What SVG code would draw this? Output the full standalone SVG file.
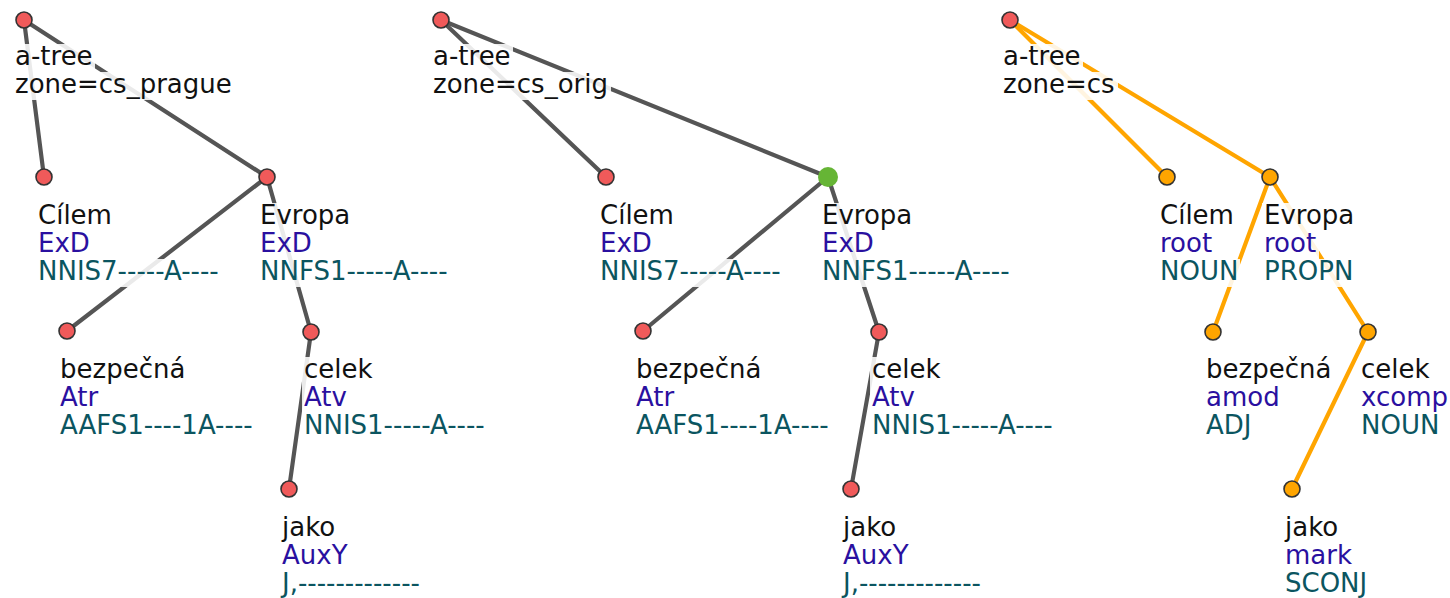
<svg xmlns="http://www.w3.org/2000/svg" width="1450" height="598" viewBox="0 0 1450 598">
<style>
text{font-family:"DejaVu Sans",Verdana,sans-serif;font-size:26px}
.l1{fill:#111}
.l2{fill:#2a10a0}
.l3{fill:#0b5560}
.bg{fill:#fff;fill-opacity:0.88}
.e{stroke:#555;stroke-width:4.2;stroke-linecap:round}
.eo{stroke:#ffa500;stroke-width:4.2;stroke-linecap:round}
.nr{fill:#f05a5a;stroke:#333;stroke-width:1.6}
.no{fill:#ffa500;stroke:#333;stroke-width:1.6}
.ng{fill:#66b535}
</style>
<rect width="1450" height="598" fill="#fff"/>
<g id="edges">
<line class="e" x1="24" y1="20" x2="44" y2="177"/>
<line class="e" x1="24" y1="20" x2="267" y2="177"/>
<line class="e" x1="267" y1="177" x2="67" y2="331"/>
<line class="e" x1="267" y1="177" x2="311" y2="332"/>
<line class="e" x1="311" y1="332" x2="289" y2="489"/>
<line class="e" x1="441" y1="20" x2="606" y2="177"/>
<line class="e" x1="441" y1="20" x2="828" y2="177"/>
<line class="e" x1="828" y1="177" x2="643" y2="331"/>
<line class="e" x1="828" y1="177" x2="879" y2="332"/>
<line class="e" x1="879" y1="332" x2="851" y2="489"/>
<line class="eo" x1="1010" y1="20" x2="1167" y2="177"/>
<line class="eo" x1="1010" y1="20" x2="1270" y2="177"/>
<line class="eo" x1="1270" y1="177" x2="1213" y2="332"/>
<line class="eo" x1="1270" y1="177" x2="1368" y2="332"/>
<line class="eo" x1="1368" y1="332" x2="1292" y2="489"/>
</g>
<g id="t1-root"><rect class="bg" x="13" y="44" width="82" height="28"/><rect class="bg" x="13" y="72" width="222" height="28"/><circle class="nr" cx="24" cy="20" r="8"/><text x="15" y="65" class="l1">a-tree</text><text x="15" y="93" class="l1">zone=cs_prague</text></g>
<g id="t1-cilem"><rect class="bg" x="36" y="203" width="78" height="28"/><rect class="bg" x="36" y="231" width="56" height="28"/><rect class="bg" x="36" y="259" width="186" height="28"/><circle class="nr" cx="44" cy="177" r="8"/><text x="38" y="224" class="l1">Cílem</text><text x="38" y="252" class="l2">ExD</text><text x="38" y="280" class="l3">NNIS7-----A----</text></g>
<g id="t1-evropa"><rect class="bg" x="258" y="203" width="95" height="28"/><rect class="bg" x="258" y="231" width="56" height="28"/><rect class="bg" x="258" y="259" width="193" height="28"/><circle class="nr" cx="267" cy="177" r="8"/><text x="260" y="224" class="l1">Evropa</text><text x="260" y="252" class="l2">ExD</text><text x="260" y="280" class="l3">NNFS1-----A----</text></g>
<g id="t1-bezpecna"><rect class="bg" x="58" y="357" width="130" height="28"/><rect class="bg" x="58" y="385" width="43" height="28"/><rect class="bg" x="58" y="413" width="197" height="28"/><circle class="nr" cx="67" cy="331" r="8"/><text x="60" y="378" class="l1">bezpečná</text><text x="60" y="406" class="l2">Atr</text><text x="60" y="434" class="l3">AAFS1----1A----</text></g>
<g id="t1-celek"><rect class="bg" x="302" y="357" width="73" height="28"/><rect class="bg" x="302" y="385" width="47" height="28"/><rect class="bg" x="302" y="413" width="186" height="28"/><circle class="nr" cx="311" cy="332" r="8"/><text x="304" y="378" class="l1">celek</text><text x="304" y="406" class="l2">Atv</text><text x="304" y="434" class="l3">NNIS1-----A----</text></g>
<g id="t1-jako"><rect class="bg" x="280" y="515" width="58" height="28"/><rect class="bg" x="280" y="543" width="70" height="28"/><rect class="bg" x="280" y="571" width="142" height="27"/><circle class="nr" cx="289" cy="489" r="8"/><text x="282" y="536" class="l1">jako</text><text x="282" y="564" class="l2">AuxY</text><text x="282" y="592" class="l3">J,-------------</text></g>
<g id="t2-root"><rect class="bg" x="431" y="44" width="82" height="28"/><rect class="bg" x="431" y="72" width="180" height="28"/><circle class="nr" cx="441" cy="20" r="8"/><text x="433" y="65" class="l1">a-tree</text><text x="433" y="93" class="l1">zone=cs_orig</text></g>
<g id="t2-cilem"><rect class="bg" x="598" y="203" width="78" height="28"/><rect class="bg" x="598" y="231" width="56" height="28"/><rect class="bg" x="598" y="259" width="186" height="28"/><circle class="nr" cx="606" cy="177" r="8"/><text x="600" y="224" class="l1">Cílem</text><text x="600" y="252" class="l2">ExD</text><text x="600" y="280" class="l3">NNIS7-----A----</text></g>
<g id="t2-evropa"><rect class="bg" x="820" y="203" width="95" height="28"/><rect class="bg" x="820" y="231" width="56" height="28"/><rect class="bg" x="820" y="259" width="193" height="28"/><circle class="ng" cx="828" cy="177" r="10"/><text x="822" y="224" class="l1">Evropa</text><text x="822" y="252" class="l2">ExD</text><text x="822" y="280" class="l3">NNFS1-----A----</text></g>
<g id="t2-bezpecna"><rect class="bg" x="634" y="357" width="130" height="28"/><rect class="bg" x="634" y="385" width="43" height="28"/><rect class="bg" x="634" y="413" width="197" height="28"/><circle class="nr" cx="643" cy="331" r="8"/><text x="636" y="378" class="l1">bezpečná</text><text x="636" y="406" class="l2">Atr</text><text x="636" y="434" class="l3">AAFS1----1A----</text></g>
<g id="t2-celek"><rect class="bg" x="870" y="357" width="73" height="28"/><rect class="bg" x="870" y="385" width="47" height="28"/><rect class="bg" x="870" y="413" width="186" height="28"/><circle class="nr" cx="879" cy="332" r="8"/><text x="872" y="378" class="l1">celek</text><text x="872" y="406" class="l2">Atv</text><text x="872" y="434" class="l3">NNIS1-----A----</text></g>
<g id="t2-jako"><rect class="bg" x="841" y="515" width="58" height="28"/><rect class="bg" x="841" y="543" width="70" height="28"/><rect class="bg" x="841" y="571" width="142" height="27"/><circle class="nr" cx="851" cy="489" r="8"/><text x="843" y="536" class="l1">jako</text><text x="843" y="564" class="l2">AuxY</text><text x="843" y="592" class="l3">J,-------------</text></g>
<g id="t3-root"><rect class="bg" x="1001" y="44" width="82" height="28"/><rect class="bg" x="1001" y="72" width="117" height="28"/><circle class="nr" cx="1010" cy="20" r="8"/><text x="1003" y="65" class="l1">a-tree</text><text x="1003" y="93" class="l1">zone=cs</text></g>
<g id="t3-cilem"><rect class="bg" x="1158" y="203" width="78" height="28"/><rect class="bg" x="1158" y="231" width="57" height="28"/><rect class="bg" x="1158" y="259" width="82" height="28"/><circle class="no" cx="1167" cy="177" r="8"/><text x="1160" y="224" class="l1">Cílem</text><text x="1160" y="252" class="l2">root</text><text x="1160" y="280" class="l3">NOUN</text></g>
<g id="t3-evropa"><rect class="bg" x="1262" y="203" width="95" height="28"/><rect class="bg" x="1262" y="231" width="57" height="28"/><rect class="bg" x="1262" y="259" width="93" height="28"/><circle class="no" cx="1270" cy="177" r="8"/><text x="1264" y="224" class="l1">Evropa</text><text x="1264" y="252" class="l2">root</text><text x="1264" y="280" class="l3">PROPN</text></g>
<g id="t3-bezpecna"><rect class="bg" x="1204" y="357" width="130" height="28"/><rect class="bg" x="1204" y="385" width="78" height="28"/><rect class="bg" x="1204" y="413" width="49" height="28"/><circle class="no" cx="1213" cy="332" r="8"/><text x="1206" y="378" class="l1">bezpečná</text><text x="1206" y="406" class="l2">amod</text><text x="1206" y="434" class="l3">ADJ</text></g>
<g id="t3-celek"><rect class="bg" x="1359" y="357" width="73" height="28"/><rect class="bg" x="1359" y="385" width="91" height="28"/><rect class="bg" x="1359" y="413" width="82" height="28"/><circle class="no" cx="1368" cy="332" r="8"/><text x="1361" y="378" class="l1">celek</text><text x="1361" y="406" class="l2">xcomp</text><text x="1361" y="434" class="l3">NOUN</text></g>
<g id="t3-jako"><rect class="bg" x="1283" y="515" width="58" height="28"/><rect class="bg" x="1283" y="543" width="71" height="28"/><rect class="bg" x="1283" y="571" width="86" height="27"/><circle class="no" cx="1292" cy="489" r="8"/><text x="1285" y="536" class="l1">jako</text><text x="1285" y="564" class="l2">mark</text><text x="1285" y="592" class="l3">SCONJ</text></g>
</svg>
